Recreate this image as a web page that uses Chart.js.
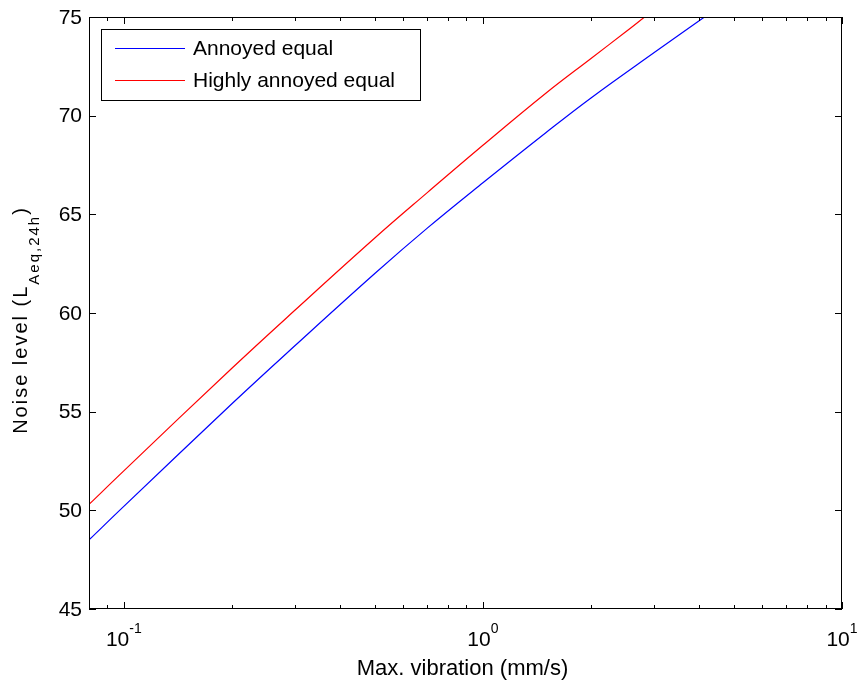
<!DOCTYPE html>
<html>
<head>
<meta charset="utf-8">
<script src="https://cdn.jsdelivr.net/npm/chart.js@4"></script>
<style>
  body { margin: 0; background: #fff; }
  canvas { display: block; }
</style>
</head>
<body>
<canvas id="noiseChart" width="857" height="680"></canvas>
<script>
// values
const annoyedX = [0.08, 0.1, 0.2, 0.3, 0.5, 0.7, 1.0, 1.5, 2.0, 3.0, 4.14];
const annoyedY = [48.5, 50.2, 55.4, 58.35, 62.0, 64.3, 66.6, 69.15, 70.9, 73.2, 75];
const highlyX = [0.08, 0.1, 0.2, 0.3, 0.5, 0.7, 1.0, 1.5, 2.0, 2.5, 2.82];
const highlyY = [50.3, 52.0, 57.2, 60.15, 63.8, 66.1, 68.5, 71.15, 72.9, 74.25, 75];

const yTicks = [45, 50, 55, 60, 65, 70, 75];
const xDecades = [0.1, 1, 10];
const xDecadeLabels = [["10", "-1"], ["10", "0"], ["10", "1"]];
const xMinorTicks = [0.08, 0.09, 0.2, 0.3, 0.4, 0.5, 0.6, 0.7, 0.8, 0.9,
                     2, 3, 4, 5, 6, 7, 8, 9];

const FONT = "'Liberation Sans', Arial, sans-serif";

const toPoints = (xs, ys) => xs.map((x, i) => ({ x: x, y: ys[i] }));

// draws MATLAB-style frame, inward ticks, labels, titles and legend
const matlabAxes = {
  id: "matlabAxes",
  afterDraw(chart) {
    const ctx = chart.ctx;
    const area = chart.chartArea;
    const xs = chart.scales.x;
    const ys = chart.scales.y;

    ctx.save();
    ctx.strokeStyle = "#000";
    ctx.lineWidth = 1;
    ctx.strokeRect(area.left + 0.5, area.top + 0.5, area.right - area.left - 1, area.bottom - area.top - 1);

    // y ticks
    ctx.beginPath();
    yTicks.forEach(v => {
      const py = Math.round(ys.getPixelForValue(v)) + 0.5;
      ctx.moveTo(area.left, py); ctx.lineTo(area.left + 7, py);
      ctx.moveTo(area.right, py); ctx.lineTo(area.right - 7, py);
    });
    // x ticks
    const tick = (v, len) => {
      const px = Math.round(xs.getPixelForValue(v)) + 0.5;
      ctx.moveTo(px, area.bottom); ctx.lineTo(px, area.bottom - len);
      ctx.moveTo(px, area.top); ctx.lineTo(px, area.top + len);
    };
    xDecades.forEach(v => tick(v, 7));
    xMinorTicks.forEach(v => tick(v, 4));
    ctx.stroke();

    // y tick labels
    ctx.fillStyle = "#000";
    ctx.font = "21px " + FONT;
    ctx.textAlign = "right";
    ctx.textBaseline = "middle";
    yTicks.forEach(v => {
      ctx.fillText(String(v), area.left - 7, ys.getPixelForValue(v) + 1);
    });

    // x tick labels with superscript exponents
    ctx.textAlign = "left";
    ctx.textBaseline = "alphabetic";
    xDecades.forEach((v, i) => {
      const [base, exp] = xDecadeLabels[i];
      ctx.font = "21px " + FONT;
      const w1 = ctx.measureText(base).width;
      ctx.font = "14px " + FONT;
      const w2 = ctx.measureText(exp).width;
      const start = xs.getPixelForValue(v) - (w1 + w2) / 2;
      ctx.font = "21px " + FONT;
      ctx.fillText(base, start, 646);
      ctx.font = "14px " + FONT;
      ctx.fillText(exp, start + w1, 633);
    });

    // x title
    ctx.font = "22px " + FONT;
    ctx.textAlign = "center";
    ctx.fillText("Max. vibration (mm/s)", (area.left + area.right) / 2 - 3, 675);

    // y title with subscript (rotated text is spaced out in the reference)
    ctx.save();
    ctx.translate(27, (area.top + area.bottom) / 2 + 7);
    ctx.rotate(-Math.PI / 2);
    ctx.textAlign = "left";
    ctx.letterSpacing = "2px";
    const main = "Noise level (L", sub = "Aeq,24h", close = ")";
    ctx.font = "20px " + FONT;
    const wm = ctx.measureText(main).width, wc = ctx.measureText(close).width;
    ctx.font = "15px " + FONT;
    const ws = ctx.measureText(sub).width;
    const x0 = -(wm + ws + wc) / 2;
    ctx.font = "20px " + FONT;
    ctx.fillText(main, x0, 0);
    ctx.font = "15px " + FONT;
    ctx.fillText(sub, x0 + wm, 12);
    ctx.font = "20px " + FONT;
    ctx.fillText(close, x0 + wm + ws, 0);
    ctx.restore();

    // legend
    const lx = 101, ly = 29, lw = 319, lh = 71;
    ctx.fillStyle = "#fff";
    ctx.fillRect(lx, ly, lw, lh);
    ctx.strokeRect(lx + 0.5, ly + 0.5, lw, lh);
    ctx.font = "21px " + FONT;
    ctx.textAlign = "left";
    ctx.textBaseline = "middle";
    chart.data.datasets.forEach((ds, i) => {
      const yy = ly + 19 + i * 32;
      ctx.strokeStyle = ds.borderColor;
      ctx.beginPath();
      ctx.moveTo(115, yy + 0.5); ctx.lineTo(185, yy + 0.5);
      ctx.stroke();
      ctx.fillStyle = "#000";
      ctx.fillText(ds.label, 193, yy + 1);
    });
    ctx.restore();
  }
};

new Chart(document.getElementById("noiseChart"), {
  type: "line",
  data: {
    datasets: [
      {
        label: "Annoyed equal",
        data: toPoints(annoyedX, annoyedY),
        borderColor: "#0000ff",
        borderWidth: 1.2,
        pointRadius: 0,
        fill: false,
        tension: 0.4
      },
      {
        label: "Highly annoyed equal",
        data: toPoints(highlyX, highlyY),
        borderColor: "#ff0000",
        borderWidth: 1.2,
        pointRadius: 0,
        fill: false,
        tension: 0.4
      }
    ]
  },
  options: {
    responsive: false,
    animation: false,
    layout: { padding: { left: 89, right: 15, top: 17, bottom: 71 } },
    scales: {
      x: { type: "logarithmic", min: 0.08, max: 10, display: false },
      y: { type: "linear", min: 45, max: 75, display: false }
    },
    plugins: {
      legend: { display: false },
      tooltip: { enabled: false }
    }
  },
  plugins: [matlabAxes]
});
</script>
</body>
</html>
